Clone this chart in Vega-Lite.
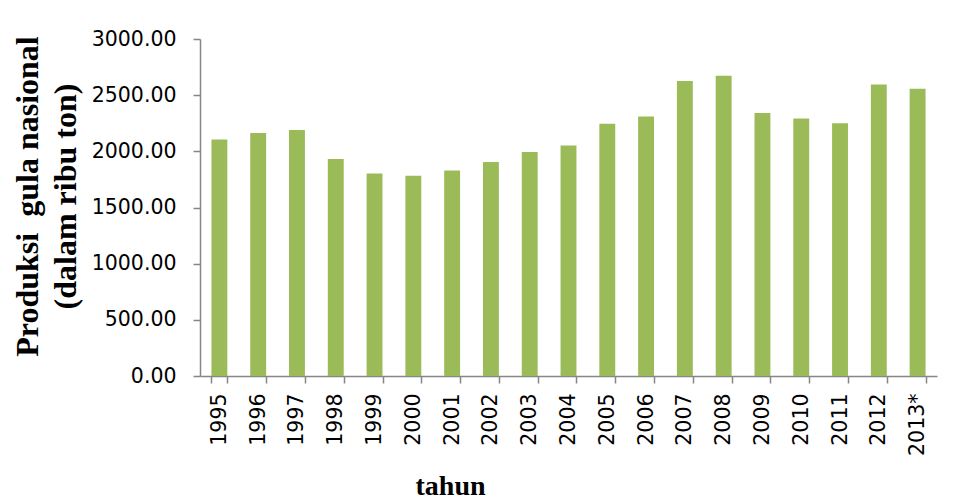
{
  "$schema": "https://vega.github.io/schema/vega-lite/v6.json",
  "width": 737,
  "height": 337,
  "autosize": {"type": "none"},
  "padding": {"left": 200, "top": 39, "right": 19, "bottom": 125},
  "background": "white",
  "data": {
    "values": [
      {"tahun": "1995", "produksi": 2106},
      {"tahun": "1996", "produksi": 2163},
      {"tahun": "1997", "produksi": 2189},
      {"tahun": "1998", "produksi": 1931},
      {"tahun": "1999", "produksi": 1803},
      {"tahun": "2000", "produksi": 1782},
      {"tahun": "2001", "produksi": 1830},
      {"tahun": "2002", "produksi": 1904},
      {"tahun": "2003", "produksi": 1993},
      {"tahun": "2004", "produksi": 2053},
      {"tahun": "2005", "produksi": 2245},
      {"tahun": "2006", "produksi": 2311},
      {"tahun": "2007", "produksi": 2626},
      {"tahun": "2008", "produksi": 2673},
      {"tahun": "2009", "produksi": 2341},
      {"tahun": "2010", "produksi": 2293},
      {"tahun": "2011", "produksi": 2249},
      {"tahun": "2012", "produksi": 2596},
      {"tahun": "2013*", "produksi": 2557}
    ]
  },
  "mark": {"type": "bar", "color": "#9BBB59"},
  "encoding": {
    "x": {
      "field": "tahun",
      "type": "nominal",
      "sort": null,
      "scale": {"paddingInner": 0.59, "paddingOuter": 0.295},
      "axis": {
        "title": "tahun",
        "titleFont": "Liberation Serif",
        "titleFontWeight": "bold",
        "titleFontSize": 28,
        "titleColor": "black",
        "titleX": 250,
        "titleY": 118,
        "titleAlign": "center",
        "titleBaseline": "alphabetic",
        "labelAngle": -90,
        "labelAlign": "right",
        "labelBaseline": "middle",
        "labelFont": "DejaVu Sans",
        "labelFontSize": 20.5,
        "labelColor": "black",
        "labelPadding": 10,
        "tickBand": "extent",
        "tickSize": 7,
        "tickColor": "#868686",
        "tickWidth": 1.5,
        "domainColor": "#868686",
        "domainWidth": 1.5,
        "grid": false
      }
    },
    "y": {
      "field": "produksi",
      "type": "quantitative",
      "scale": {"domain": [0, 3000], "nice": false},
      "axis": {
        "title": ["Produksi \u00a0gula nasional", "(dalam ribu ton)"],
        "titleFont": "Liberation Serif",
        "titleFontWeight": "bold",
        "titleFontSize": 32,
        "titleLineHeight": 38,
        "titleColor": "black",
        "titleAngle": -90,
        "titleX": -163,
        "titleY": 157,
        "titleAlign": "center",
        "titleBaseline": "alphabetic",
        "values": [0, 500, 1000, 1500, 2000, 2500, 3000],
        "format": ".2f",
        "labelFont": "DejaVu Sans",
        "labelFontSize": 20.5,
        "labelColor": "black",
        "labelPadding": 17,
        "tickSize": 7,
        "tickColor": "#868686",
        "tickWidth": 1.5,
        "domainColor": "#868686",
        "domainWidth": 1.5,
        "grid": false
      }
    }
  },
  "config": {"view": {"stroke": null}}
}
